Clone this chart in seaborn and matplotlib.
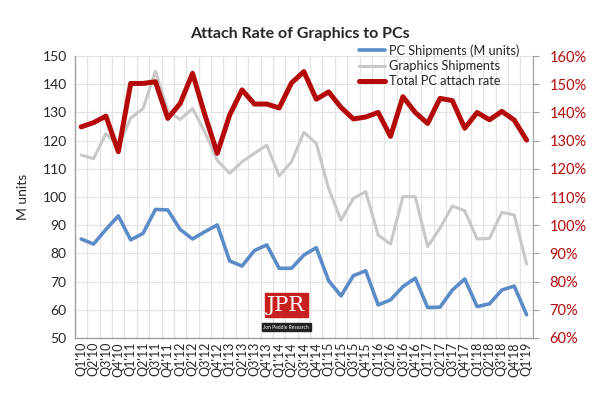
import numpy as np
import matplotlib
matplotlib.use("Agg")
import matplotlib.pyplot as plt
import pandas as pd
import seaborn as sns

quarters = [f"Q{q}'{y}" for y in range(10, 20) for q in range(1, 5)][:37]

pc_shipments = [85.1, 83.3, 88.5, 93.3, 84.8, 87.1, 95.6, 95.4, 88.5, 85.1,
                87.7, 90.1, 77.3, 75.5, 81.0, 83.0, 74.7, 74.7, 79.4, 82.0,
                70.3, 64.9, 72.1, 73.8, 61.7, 63.5, 68.2, 71.2, 60.8, 60.9,
                67.0, 70.9, 61.1, 62.1, 67.0, 68.4, 58.2]
gfx_shipments = [114.9, 113.6, 122.5, 118.0, 128.0, 131.4, 144.7, 130.5, 127.5, 131.4,
                 123.0, 113.0, 108.4, 112.5, 115.5, 118.4, 107.5, 112.5, 123.0, 119.0,
                 103.0, 91.8, 99.5, 101.9, 86.5, 83.3, 100.1, 100.1, 82.4, 88.9,
                 96.8, 95.1, 85.1, 85.3, 94.6, 93.6, 76.2]
attach_rate = [134.9, 136.4, 138.7, 126.1, 150.3, 150.3, 150.9, 137.9, 143.2, 153.9,
               139.1, 125.5, 139.1, 148.0, 143.0, 143.0, 141.6, 150.5, 154.5, 144.7,
               147.3, 141.8, 137.7, 138.4, 140.0, 131.5, 145.6, 140.0, 136.1, 145.0,
               144.2, 134.4, 140.0, 137.4, 140.4, 137.3, 130.2]

df = pd.DataFrame({"idx": np.arange(len(quarters)), "quarter": quarters,
                   "pc": pc_shipments, "gfx": gfx_shipments, "rate": attach_rate})

sns.set_style("white")
plt.rcParams['font.family'] = ['Lato', 'DejaVu Sans']

blue = "#5B8CC8"
gray = "#C8C8C8"
red = "#B40A0A"
grid_c = "#E4E4E4"

fig = plt.figure(figsize=(6, 3.98), dpi=100)
ax = fig.add_axes([0.125, 0.151, 0.763, 0.708])

sns.lineplot(data=df, x="idx", y="pc", ax=ax, color=blue, lw=2.6,
             label="PC Shipments (M units)", legend=False)
sns.lineplot(data=df, x="idx", y="gfx", ax=ax, color=gray, lw=2.2,
             label="Graphics Shipments", legend=False)

ax.set_xlim(-0.5, len(quarters) - 0.5)
ax.set_ylim(50, 150)
ax.set_yticks(range(50, 151, 10))
ax.set_xticks(df["idx"])
ax.set_xticklabels(quarters, rotation=90, fontsize=9)
ax.set_xticks(np.arange(-0.5, len(quarters), 1), minor=True)
ax.grid(False)
ax.grid(True, which="minor", axis="x", color=grid_c, lw=0.9)
ax.grid(True, which="major", axis="y", color=grid_c, lw=0.9)
ax.tick_params(axis="x", which="both", length=0, pad=3)
ax.tick_params(axis="y", labelsize=10, length=0, pad=6)
ax.set_xlabel("")
ax.set_ylabel("M units", fontsize=10, labelpad=10)
for s in ["top", "right"]:
    ax.spines[s].set_visible(False)
for s in ["left", "bottom"]:
    ax.spines[s].set_color("#A0A0A0")
    ax.spines[s].set_linewidth(1.0)

ax2 = ax.twinx()
sns.lineplot(data=df, x="idx", y="rate", ax=ax2, color=red, lw=3.6,
             label="Total PC attach rate", legend=False)
ax2.set_ylim(60, 160)
ax2.set_yticks(range(60, 161, 10))
ax2.set_yticklabels([f"{v}%" for v in range(60, 161, 10)], color=red, fontsize=10.5)
ax2.tick_params(axis="y", length=4, color="#A0A0A0", pad=8)
ax2.set_ylabel("")
ax2.grid(False)
for s in ["top", "left", "bottom"]:
    ax2.spines[s].set_visible(False)
ax2.spines["right"].set_color("#A0A0A0")

h1, l1 = ax.get_legend_handles_labels()
h2, l2 = ax2.get_legend_handles_labels()
ax2.legend(h1 + h2, l1 + l2, loc="upper left", bbox_to_anchor=(0.61, 1.06),
           frameon=False, fontsize=9.2, handlelength=2.0, labelspacing=0.25,
           handletextpad=0.3, borderaxespad=0)

fig.text(0.5, 0.915, "Attach Rate of Graphics to PCs", ha="center", va="center",
         fontsize=11.5, fontweight="bold")

# JPR logo
fig.text(0.477, 0.233, "JPR", ha="center", va="center", color="white",
         fontsize=15, family="DejaVu Serif",
         bbox=dict(boxstyle="square,pad=0.12", fc="#C8201E", ec="#C8201E"))
fig.text(0.477, 0.178, "Jon Peddie Research", ha="center", va="center",
         color="white", fontsize=3.6,
         bbox=dict(boxstyle="square,pad=0.3", fc="#222222", ec="#222222"))

fig.savefig("out.png", dpi=100)
